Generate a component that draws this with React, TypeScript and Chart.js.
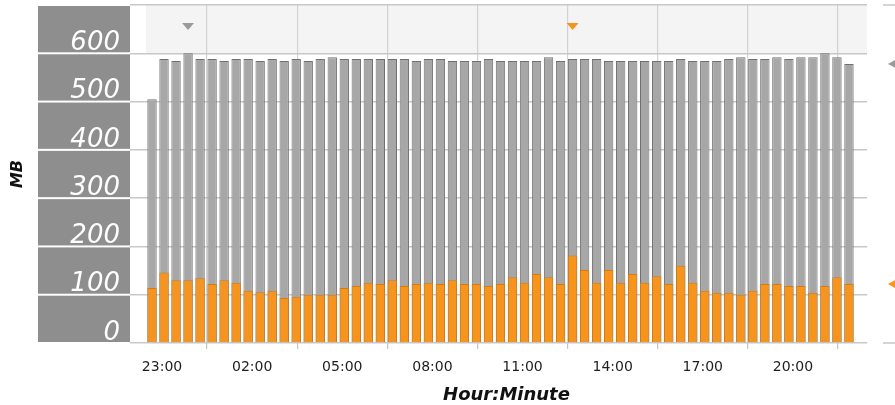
import { useEffect, useRef } from "react";
import { Chart, registerables } from "chart.js";

Chart.register(...registerables);

// Start time of each 24-minute sample (bar centres)
const slotTimes = [
  "22:40", "23:04", "23:28", "23:52", "00:16", "00:40", "01:04", "01:28", "01:52", "02:16",
  "02:40", "03:04", "03:28", "03:52", "04:16", "04:40", "05:04", "05:28", "05:52", "06:16",
  "06:40", "07:04", "07:28", "07:52", "08:16", "08:40", "09:04", "09:28", "09:52", "10:16",
  "10:40", "11:04", "11:28", "11:52", "12:16", "12:40", "13:04", "13:28", "13:52", "14:16",
  "14:40", "15:04", "15:28", "15:52", "16:16", "16:40", "17:04", "17:28", "17:52", "18:16",
  "18:40", "19:04", "19:28", "19:52", "20:16", "20:40", "21:04", "21:28", "21:52",
];

// Total memory (grey bars), MB
const totalMB = [
  505, 588, 584, 600, 588, 588, 584, 588, 588, 584,
  588, 584, 588, 584, 588, 592, 588, 588, 588, 588,
  588, 588, 584, 588, 588, 584, 584, 584, 588, 584,
  584, 584, 584, 592, 584, 588, 588, 588, 584, 584,
  584, 584, 584, 584, 588, 584, 584, 584, 588, 592,
  588, 588, 592, 588, 592, 592, 600, 592, 578,
];

// Used memory (orange bars), MB
const usedMB = [
  114, 146, 130, 130, 134, 122, 130, 125, 108, 105,
  108, 93, 96, 100, 100, 100, 114, 118, 125, 122,
  130, 118, 122, 125, 122, 130, 122, 122, 118, 122,
  136, 125, 143, 136, 122, 181, 151, 125, 151, 125,
  143, 125, 138, 122, 160, 125, 108, 104, 104, 100,
  108, 122, 122, 118, 118, 104, 118, 136, 122,
];

const hourTicks = ["23:00", "02:00", "05:00", "08:00", "11:00", "14:00", "17:00", "20:00"];
const yBands = [0, 100, 200, 300, 400, 500, 600];
const axisStart = "22:28";

const GREY = "#a7a7a7";
const GREY_EDGE = "#707070";
const ORANGE = "#f7941e";
const ORANGE_EDGE = "#d27c12";

const toMinutes = (t: string) => {
  const [h, m] = t.split(":").map(Number);
  const v = h * 60 + m;
  return v < 22 * 60 ? v + 1440 : v;
};

const xMin = toMinutes(axisStart);
const xMax = xMin + 1440;

const argMax = (arr: number[]) => arr.reduce((b, v, i) => (v > arr[b] ? i : b), 0);

const decor = {
  id: "decor",
  beforeDraw(chart: any) {
    const { ctx, chartArea: a, scales } = chart;
    const y = scales.y;
    ctx.save();
    const p600 = y.getPixelForValue(600);
    ctx.fillStyle = "#f4f4f4";
    ctx.fillRect(a.left, a.top, a.right - a.left, p600 - a.top);
    ctx.fillStyle = "#8e8e8e";
    for (const v of yBands) {
      const top = y.getPixelForValue(v + 100);
      const bot = y.getPixelForValue(v);
      ctx.fillRect(38, top + 1, 92, bot - top - 2);
    }
    ctx.strokeStyle = "#c8c8c8";
    ctx.lineWidth = 1.5;
    ctx.beginPath();
    ctx.moveTo(883, a.top);
    ctx.lineTo(895, a.top);
    ctx.moveTo(883, a.bottom);
    ctx.lineTo(895, a.bottom);
    ctx.stroke();
    ctx.restore();
  },
  afterDraw(chart: any) {
    const { ctx, chartArea: a, scales } = chart;
    const x = scales.x;
    const y = scales.y;
    ctx.save();
    const series = [
      { vals: totalMB, color: "#9a9a9a" },
      { vals: usedMB, color: ORANGE },
    ];
    for (const s of series) {
      const i = argMax(s.vals);
      const px = x.getPixelForValue(toMinutes(slotTimes[i]));
      ctx.fillStyle = s.color;
      ctx.beginPath();
      ctx.moveTo(px - 6, a.top + 18);
      ctx.lineTo(px + 6, a.top + 18);
      ctx.lineTo(px, a.top + 25);
      ctx.closePath();
      ctx.fill();
      const last = s.vals[s.vals.length - 1];
      const py = y.getPixelForValue(last);
      ctx.beginPath();
      ctx.moveTo(a.right + 21, py);
      ctx.lineTo(a.right + 29, py - 4.5);
      ctx.lineTo(a.right + 29, py + 4.5);
      ctx.closePath();
      ctx.fill();
    }
    ctx.restore();
  },
};

export default function App() {
  const ref = useRef<HTMLCanvasElement>(null);
  useEffect(() => {
    document.body.style.margin = "0";
    const xs = slotTimes.map(toMinutes);
    const chart = new Chart(ref.current as HTMLCanvasElement, {
      type: "bar",
      data: {
        datasets: [
          {
            label: "Used",
            data: usedMB.map((v, i) => ({ x: xs[i], y: v })),
            backgroundColor: ORANGE,
            borderColor: ORANGE_EDGE,
            borderWidth: 1,
            grouped: false,
            categoryPercentage: 1,
            barPercentage: 0.78,
          } as any,
          {
            label: "Total",
            data: totalMB.map((v, i) => ({ x: xs[i], y: v })),
            backgroundColor: GREY,
            borderColor: GREY_EDGE,
            borderWidth: 1,
            grouped: false,
            categoryPercentage: 1,
            barPercentage: 0.78,
          } as any,
        ],
      },
      options: {
        responsive: false,
        animation: false,
        layout: { padding: { top: 5, right: 28, left: 0, bottom: 0 } },
        plugins: { legend: { display: false }, tooltip: { enabled: false } },
        scales: {
          x: {
            type: "linear",
            min: xMin,
            max: xMax,
            offset: false,
            afterBuildTicks: (s: any) => {
              s.ticks = hourTicks.map((t) => ({ value: toMinutes(t) }));
            },
            afterFit: (s: any) => {
              s.height = 62;
              s.paddingLeft = 0;
              s.paddingRight = 0;
            },
            ticks: {
              autoSkip: false,
              maxRotation: 0,
              padding: 10,
              color: "#1e1e1e",
              font: { family: "DejaVu Sans", size: 14 },
              callback: (_v: any, i: number) => hourTicks[i],
            },
            grid: { color: "#d2d2d2", lineWidth: 1.2, tickLength: 6, tickColor: "#c4c4c4" },
            border: { display: false },
            title: {
              display: true,
              text: "Hour:Minute",
              color: "#111",
              font: { family: "DejaVu Sans", size: 18, weight: "bold", style: "italic" },
              padding: { top: 0, bottom: -1 },
            },
          } as any,
          y: {
            min: 0,
            max: 700,
            afterFit: (s: any) => {
              s.width = 146;
              s.paddingTop = 0;
              s.paddingBottom = 0;
            },
            ticks: {
              stepSize: 100,
              color: "#ffffff",
              padding: 10,
              labelOffset: -10,
              font: { family: "DejaVu Sans", size: 26, style: "italic" },
              callback: (v: any) => (v === 700 ? "" : String(v)),
            },
            grid: { color: "#c8c8c8", lineWidth: 1.5, tickLength: 16, tickColor: "#c8c8c8" },
            border: { display: false },
            title: {
              display: true,
              text: "MB",
              color: "#111",
              font: { family: "DejaVu Sans", size: 16, weight: "bold", style: "italic" },
              padding: { top: 8, bottom: 0 },
            },
          } as any,
        },
      },
      plugins: [decor],
    });
    return () => chart.destroy();
  }, []);
  return (
    <div style={{ width: 895, height: 405, position: "relative" }}>
      <canvas ref={ref} width={895} height={405} />
    </div>
  );
}
